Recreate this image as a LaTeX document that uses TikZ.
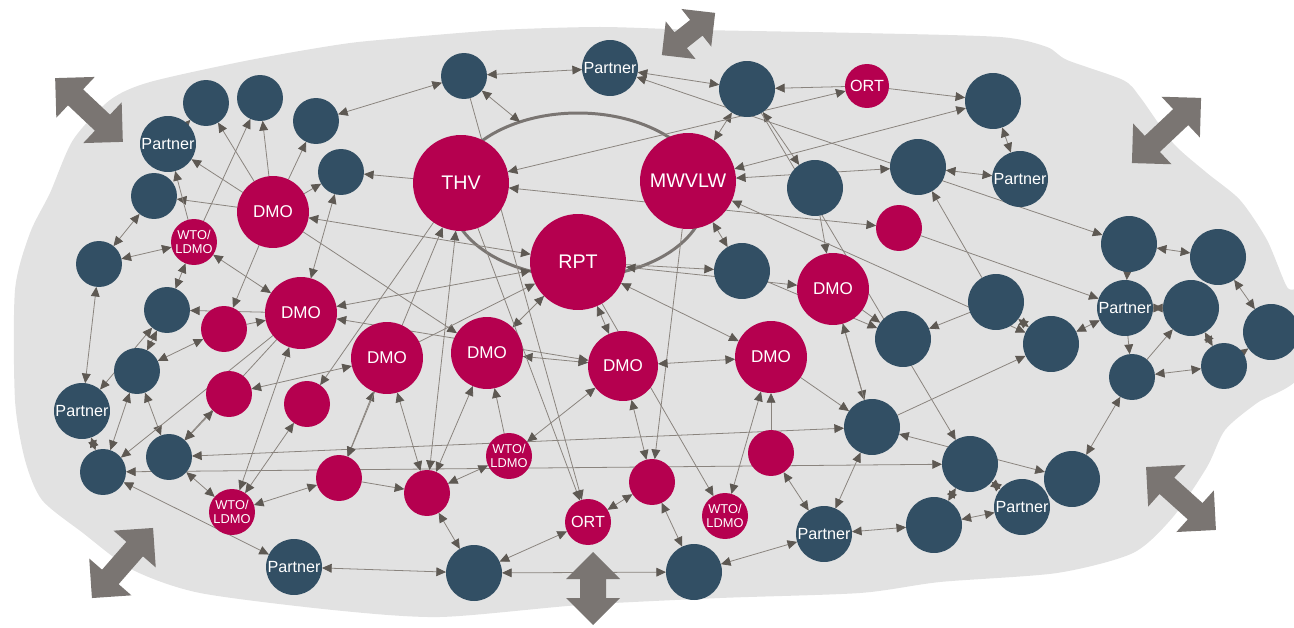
\documentclass[tikz,border=0pt]{standalone}
\usepackage{fontspec}
\newfontfamily\lab{Liberation Sans}
\usetikzlibrary{arrows.meta}
\pgfdeclarelayer{blob}
\pgfdeclarelayer{links}
\pgfsetlayers{blob,links,main}
\definecolor{mag}{HTML}{B5004F}
\definecolor{nav}{HTML}{324F64}
\definecolor{bgc}{HTML}{E2E2E2}
\definecolor{lnc}{HTML}{8A847E}
\definecolor{tipc}{HTML}{5E5953}
\definecolor{arrc}{HTML}{7A7572}
\tikzset{
 nd/.style={circle, inner sep=0pt, outer sep=0pt, text=white, align=center, font=\lab\fontsize{9.2}{10}\selectfont},
 bs/.style={nd, fill=nav, minimum size=0.92cm},
 bl/.style={nd, fill=nav, minimum size=1.12cm},
 ms/.style={nd, fill=mag, minimum size=0.92cm},
 wto/.style={ms, font=\lab\fontsize{7.3}{8.2}\selectfont},
 dmo/.style={nd, fill=mag, minimum size=1.44cm, font=\lab\fontsize{9.7}{11}\selectfont},
 bignd/.style={nd, fill=mag, minimum size=1.92cm, font=\lab\fontsize{11.2}{13}\selectfont},
 lk/.style={draw=lnc, line width=0.45pt, -{Triangle[length=5.5pt,width=5pt,color=tipc]}},
 bi/.style={draw=lnc, line width=0.45pt, {Triangle[length=5.5pt,width=5pt,color=tipc]}-{Triangle[length=5.5pt,width=5pt,color=tipc]}},
 ring/.style={draw=arrc, line width=1.7pt},
}
\newcommand\bigdarr[7]{%
 \begin{scope}[shift={(#1,#2)},rotate=#3]
 \fill[arrc] ({-#4/2},0) -- ({-#4/2+#5},#6) -- ({-#4/2+#5},#7) -- ({#4/2-#5},#7) -- ({#4/2-#5},#6) -- ({#4/2},0)
   -- ({#4/2-#5},-#6) -- ({#4/2-#5},-#7) -- ({-#4/2+#5},-#7) -- ({-#4/2+#5},-#6) -- cycle;
 \end{scope}}
\begin{document}
\begin{tikzpicture}[x=0.02cm,y=-0.02cm]
\useasboundingbox (0,0) rectangle (1294,628);
\begin{pgfonlayer}{blob}
\fill[bgc] plot[smooth cycle, tension=0.45] coordinates {
(440,35) (350,43) (250,60) (150,82) (110,100) (73,140) (50,193) (30,233) (15,290) (15,400) (25,460) (42,500) (83,533) (133,570) (200,593) (333,610) (440,617) (580,605) (720,598) (860,593) (940,582) (1057,573) (1133,553) (1173,517) (1207,467) (1225,430) (1257,403) (1300,375) (1300,295) (1287,287) (1267,240) (1240,200) (1207,173) (1173,143) (1140,97) (1123,80) (1067,60) (1047,47) (1000,37) (860,33) (700,30) (600,27) (500,30) (400,38)};
\end{pgfonlayer}
% big gray arrows
\bigdarr{89}{110}{-43.3}{93}{28}{28}{11}
\bigdarr{688.5}{34}{38.4}{68}{24}{24}{10}
\bigdarr{1166.5}{130.5}{43.3}{95}{28}{28}{11}
\bigdarr{1181}{498.5}{-42}{94}{28}{28}{11}
\bigdarr{122.5}{563}{48.9}{93}{28}{28}{11}
\bigdarr{593}{588.5}{90}{73}{27}{27}{13}
% blue nodes
\node[bs] (b1) at (464,76) {};
\node[bl] (b2) at (610,68) {Partner};
\node[bl] (b3) at (747,89) {};
\node[bl] (b4) at (993,101) {};
\node[bl] (b5) at (1020,179) {Partner};
\node[bl] (b6) at (918,167) {};
\node[bl] (b7) at (815,188) {};
\node[bs] (b8) at (206,103) {};
\node[bs] (b9) at (260,98) {};
\node[bs] (b10) at (316,121) {};
\node[bl] (b11) at (168,144) {Partner};
\node[bs] (b12) at (341,172) {};
\node[bs] (b13) at (154,196) {};
\node[bs] (b14) at (99,264) {};
\node[bs] (b15) at (167,310) {};
\node[bs] (b16) at (137,371) {};
\node[bl] (b17) at (82,411) {Partner};
\node[bs] (b18) at (103,472) {};
\node[bs] (b19) at (169,457) {};
\node[bl] (b20) at (294,567) {Partner};
\node[bl] (b21) at (474,573) {};
\node[bl] (b22) at (694,572) {};
\node[bl] (b23) at (824,534) {Partner};
\node[bl] (b24) at (934,525) {};
\node[bl] (b25) at (1022,507) {Partner};
\node[bl] (b26) at (1072,479) {};
\node[bl] (b27) at (970,464) {};
\node[bl] (b28) at (872,427) {};
\node[bl] (b29) at (903,339) {};
\node[bl] (b30) at (742,271) {};
\node[bl] (b31) at (996,302) {};
\node[bl] (b32) at (1051,344) {};
\node[bl] (b33) at (1129,244) {};
\node[bl] (b34) at (1218,257) {};
\node[bl] (b35) at (1125,308) {Partner};
\node[bl] (b36) at (1191,308) {};
\node[bl] (b37) at (1271,332) {};
\node[bs] (b38) at (1132,377) {};
\node[bs] (b39) at (1224,366) {};
% magenta nodes
\node[bignd] (thv) at (461,183) {THV};
\node[bignd] (mw) at (688,181) {MWVLW};
\node[bignd] (rpt) at (578,262) {RPT};
\node[ms, minimum size=0.88cm] (ort1) at (867,86) {ORT};
\node[ms] (m1) at (899,228) {};
\node[dmo] (dmoa) at (273,212) {DMO};
\node[wto] (wto1) at (194,242) {WTO/\\LDMO};
\node[dmo] (dmob) at (301,313) {DMO};
\node[ms] (m2) at (224,329) {};
\node[ms] (m3) at (229,394) {};
\node[ms] (m4) at (307,404) {};
\node[dmo] (dmoc) at (387,358) {DMO};
\node[dmo] (dmod) at (487,353) {DMO};
\node[dmo, minimum size=1.4cm] (dmoe) at (623,366) {DMO};
\node[dmo] (dmof) at (771,357) {DMO};
\node[dmo] (dmog) at (833,289) {DMO};
\node[wto] (wto2) at (509,456) {WTO/\\LDMO};
\node[ms] (m5) at (339,478) {};
\node[ms] (m6) at (427,493) {};
\node[wto] (wto3) at (232,512) {WTO/\\LDMO};
\node[ms] (ort2) at (588,522) {ORT};
\node[ms] (m7) at (652,482) {};
\node[wto] (wto4) at (725,516) {WTO/\\LDMO};
\node[ms] (m8) at (771,453) {};
\coordinate (ep) at (520,122);
\begin{pgfonlayer}{links}
\draw[ring] (578,195) ellipse [x radius=2.56cm, y radius=1.64cm];
\draw[lk] (b11) -- (b8);
\draw[lk] (dmoa) -- (b8);
\draw[lk] (wto1) -- (b9);
\draw[lk] (dmoa) -- (b9);
\draw[lk] (dmoa) -- (b10);
\draw[lk] (dmoa) -- (b12);
\draw[lk] (dmoa) -- (b11);
\draw[lk] (dmoa) -- (b13);
\draw[lk] (wto1) -- (b11);
\draw[lk] (thv) -- (b12);
\draw[bi] (b13) -- (b14);
\draw[bi] (wto1) -- (b14);
\draw[bi] (wto1) -- (b15);
\draw[bi] (wto1) -- (dmob);
\draw[bi] (b12) -- (dmob);
\draw[bi] (dmoa) -- (rpt);
\draw[lk] (dmoa) -- (dmod);
\draw[bi] (dmob) -- (rpt);
\draw[lk] (dmoa) -- (m2);
\draw[lk] (m2) -- (dmob);
\draw[lk] (dmob) -- (b15);
\draw[lk] (thv) -- (m4);
\draw[bi] (b10) -- (b1);
\draw[bi] (b1) -- (b2);
\draw[bi] (b1) -- (ep);
\draw[bi] (b2) -- (b3);
\draw[lk] (ort1) -- (b3);
\draw[bi] (b3) -- (mw);
\draw[bi] (thv) -- (ort1);
\draw[bi] (b2) -- (b33);
\draw[bi] (b3) -- (b7);
\draw[lk] (b7) -- (dmog);
\draw[bi] (mw) -- (b4);
\draw[bi] (mw) -- (b6);
\draw[bi] (thv) -- (m1);
\draw[bi] (mw) -- (b30);
\draw[bi] (mw) -- (b32);
\draw[lk] (m1) -- (b35);
\draw[lk] (mw) -- (m7);
\draw[lk] (rpt) -- (b30);
\draw[bi] (rpt) -- (dmog);
\draw[bi] (rpt) -- (dmof);
\draw[lk] (dmoc) -- (rpt);
\draw[bi] (rpt) -- (dmod);
\draw[bi] (rpt) -- (dmoe);
\draw[lk] (ort1) -- (b4);
\draw[bi] (b4) -- (b5);
\draw[bi] (b6) -- (b5);
\draw[lk] (b31) -- (b6);
\draw[lk] (b31) -- (b29);
\draw[bi] (b31) -- (b32);
\draw[bi] (b33) -- (b34);
\draw[bi] (b33) -- (b35);
\draw[bi] (b35) -- (b36);
\draw[bi] (b34) -- (b37);
\draw[lk] (dmog) -- (b29);
\draw[bi] (b35) -- (b32);
\draw[lk] (b35) -- (b38);
\draw[lk] (b38) -- (b36);
\draw[bi] (b36) -- (b39);
\draw[bi] (b39) -- (b37);
\draw[bi] (b38) -- (b39);
\draw[bi] (b38) -- (b26);
\draw[lk] (b3) -- (b27);
\draw[lk] (dmog) -- (b28);
\draw[lk] (b28) -- (b32);
\draw[bi] (b28) -- (b26);
\draw[bi] (b18) -- (b27);
\draw[bi] (b19) -- (b28);
\draw[bi] (b27) -- (b25);
\draw[bi] (b27) -- (b24);
\draw[bi] (b24) -- (b25);
\draw[bi] (b24) -- (b23);
\draw[bi] (b28) -- (b23);
\draw[bi] (m8) -- (b23);
\draw[bi] (b22) -- (b23);
\draw[lk] (dmof) -- (b28);
\draw[lk] (b28) -- (dmog);
\draw[bi] (dmod) -- (dmoe);
\draw[bi] (dmoe) -- (dmof);
\draw[bi] (dmoe) -- (wto2);
\draw[bi] (dmoe) -- (m7);
\draw[lk] (rpt) -- (wto4);
\draw[bi] (dmof) -- (wto4);
\draw[lk] (m8) -- (dmof);
\draw[bi] (dmod) -- (m6);
\draw[lk] (wto2) -- (dmod);
\draw[bi] (wto2) -- (m6);
\draw[bi] (m6) -- (b21);
\draw[bi] (ort2) -- (b21);
\draw[bi] (ort2) -- (m7);
\draw[bi] (m7) -- (b22);
\draw[bi] (b21) -- (b22);
\draw[bi] (b20) -- (b21);
\draw[lk] (thv) -- (ort2);
\draw[lk] (b1) -- (ort2);
\draw[bi] (b14) -- (b17);
\draw[bi] (b17) -- (b15);
\draw[bi] (b15) -- (b16);
\draw[bi] (m2) -- (b16);
\draw[bi] (b16) -- (b18);
\draw[bi] (b16) -- (b19);
\draw[bi] (b17) -- (b18);
\draw[lk] (dmob) -- (b18);
\draw[lk] (dmob) -- (b19);
\draw[bi] (b18) -- (b20);
\draw[bi] (dmob) -- (dmoe);
\draw[bi] (dmob) -- (wto3);
\draw[bi] (m3) -- (dmoc);
\draw[bi] (b19) -- (m3);
\draw[bi] (dmoc) -- (m5);
\draw[bi] (thv) -- (m5);
\draw[bi] (thv) -- (m6);
\draw[bi] (m5) -- (wto3);
\draw[lk] (m5) -- (m6);
\draw[bi] (b19) -- (wto3);
\draw[bi] (wto3) -- (m4);
\draw[bi] (dmoc) -- (m6);
\draw[lk] (b30) -- (b29);
\end{pgfonlayer}
\end{tikzpicture}
\end{document}
